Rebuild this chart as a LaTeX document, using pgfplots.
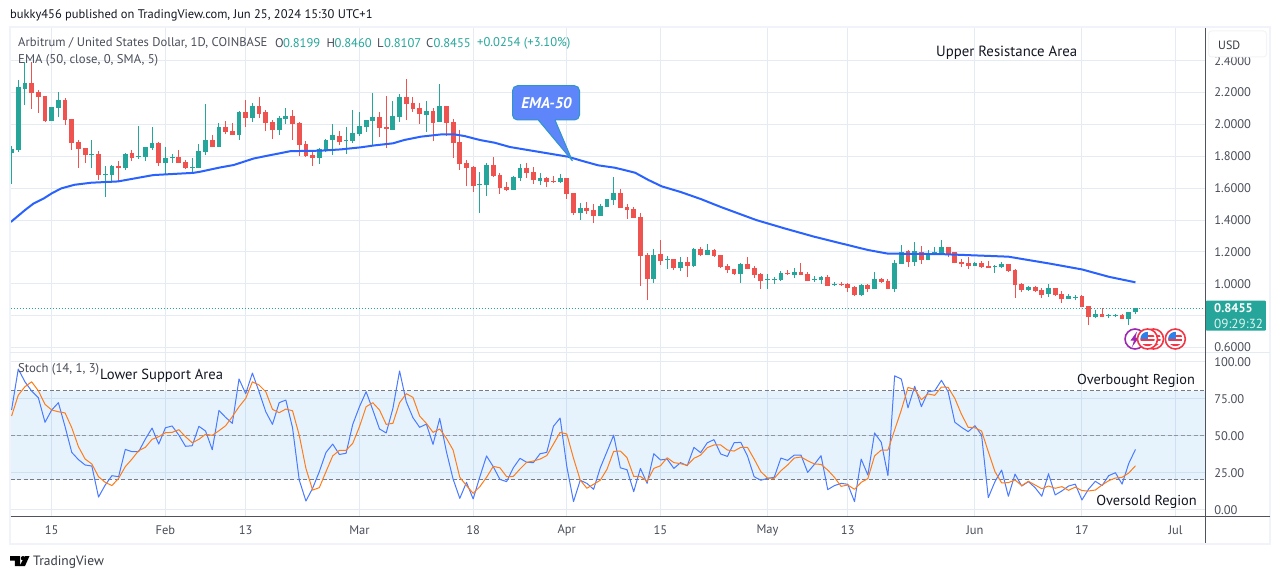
\documentclass[border=0pt]{standalone}
\usepackage{fontspec}
\usepackage{pgfplots}
\usepackage{pgfplotstable}
\pgfplotsset{compat=1.18}
\setmainfont{PT Sans}
\definecolor{tvup}{HTML}{26A69A}
\definecolor{tvdn}{HTML}{EF5350}
\definecolor{tvgrid}{HTML}{E4EBF3}
\definecolor{tvframe}{HTML}{F0F3FA}
\definecolor{tvaxis}{HTML}{50535E}
\definecolor{tvtext}{HTML}{4A4E5A}
\definecolor{tvdark}{HTML}{131722}
\definecolor{tvblue}{HTML}{2962FF}
\definecolor{tvorange}{HTML}{FF6D00}
\definecolor{tvband}{HTML}{2196F3}
\definecolor{tvdash}{HTML}{787B86}
\definecolor{callout}{HTML}{5E86FA}
\definecolor{calloutb}{HTML}{2C96C8}
\definecolor{flagred}{HTML}{F23645}
\definecolor{flagblue}{HTML}{2F7FE8}
\definecolor{evpurple}{HTML}{9C27B0}

% day of 2024, open, high, low, close
\pgfplotstableread{
d O H L C
9 1.822 1.864 1.625 1.845
10 1.839 2.278 1.828 2.234
11 2.224 2.390 2.121 2.259
15 2.021 2.108 2.021 2.108
16 2.102 2.203 2.044 2.152
21 1.810 1.901 1.724 1.812
23 1.685 1.738 1.546 1.687
24 1.682 1.744 1.634 1.738
26 1.726 1.820 1.713 1.814
28 1.797 1.989 1.784 1.801
29 1.795 1.857 1.770 1.857
30 1.851 1.983 1.839 1.883
32 1.757 1.857 1.682 1.788
33 1.793 1.814 1.757 1.797
36 1.730 1.788 1.701 1.733
37 1.726 1.876 1.726 1.832
38 1.826 2.127 1.807 1.901
40 1.857 2.008 1.857 1.983
43 1.933 2.083 1.901 2.077
45 2.040 2.134 2.014 2.115
49 1.964 2.052 1.933 2.040
50 2.033 2.102 2.002 2.052
55 1.788 1.851 1.751 1.845
56 1.839 1.908 1.826 1.901
57 1.902 2.002 1.808 1.933
59 1.897 1.983 1.814 1.900
60 1.895 2.090 1.883 1.946
61 1.939 2.077 1.927 1.990
62 1.983 2.027 1.952 2.027
63 2.021 2.197 1.870 2.046
66 1.964 2.146 1.964 2.052
67 2.046 2.190 2.015 2.172
71 2.059 2.146 1.952 2.084
73 2.015 2.253 2.015 2.115
79 1.621 1.701 1.444 1.625
80 1.619 1.757 1.550 1.745
84 1.588 1.676 1.588 1.669
85 1.663 1.751 1.644 1.726
88 1.644 1.695 1.619 1.663
91 1.638 1.688 1.632 1.663
94 1.444 1.506 1.400 1.475
97 1.425 1.500 1.425 1.487
98 1.481 1.531 1.481 1.531
99 1.525 1.669 1.494 1.569
105 1.029 1.217 1.004 1.180
107 1.151 1.174 1.092 1.155
109 1.099 1.168 1.080 1.136
111 1.111 1.224 1.105 1.218
113 1.180 1.249 1.180 1.212
118 1.061 1.130 1.005 1.124
122 1.026 1.061 0.967 1.030
123 1.026 1.042 0.998 1.030
124 1.023 1.080 1.017 1.067
126 1.055 1.099 1.036 1.074
129 1.026 1.049 1.011 1.030
130 1.023 1.049 0.998 1.042
132 0.996 1.011 0.986 1.000
136 0.929 0.998 0.923 0.992
138 0.967 1.074 0.967 1.030
141 0.967 1.149 0.948 1.130
142 1.124 1.243 1.124 1.199
144 1.136 1.262 1.111 1.205
146 1.149 1.212 1.149 1.193
147 1.186 1.230 1.180 1.199
148 1.186 1.274 1.186 1.230
153 1.111 1.136 1.111 1.130
156 1.107 1.117 1.067 1.111
157 1.105 1.136 1.099 1.124
161 0.960 0.986 0.954 0.979
164 0.935 0.998 0.917 0.973
167 0.904 0.935 0.904 0.923
168 0.915 0.929 0.898 0.919
171 0.791 0.835 0.785 0.810
173 0.797 0.810 0.785 0.801
174 0.799 0.810 0.791 0.801
176 0.778 0.822 0.741 0.822
177 0.8199 0.8460 0.8107 0.8455
}\candlesUp

\pgfplotstableread{
d O H L C
12 2.259 2.390 2.096 2.196
13 2.203 2.215 2.073 2.171
14 2.178 2.178 2.014 2.021
17 2.152 2.163 1.996 2.027
18 2.033 2.033 1.839 1.885
19 1.889 1.901 1.726 1.845
20 1.851 1.851 1.757 1.807
22 1.814 1.830 1.650 1.682
25 1.738 1.772 1.640 1.726
27 1.820 1.839 1.772 1.788
31 1.883 1.889 1.738 1.757
34 1.795 1.839 1.757 1.757
35 1.763 1.776 1.719 1.726
39 1.901 1.933 1.857 1.857
41 1.983 2.021 1.939 1.952
42 1.958 2.008 1.933 1.933
44 2.077 2.152 1.983 2.040
46 2.115 2.171 2.040 2.065
47 2.077 2.090 1.958 2.008
48 2.014 2.027 1.908 1.964
51 2.052 2.090 1.901 2.002
52 2.008 2.014 1.801 1.870
53 1.876 1.895 1.795 1.801
54 1.807 1.826 1.738 1.788
58 1.927 1.958 1.870 1.889
64 2.046 2.077 1.920 1.977
65 1.983 2.178 1.851 1.971
68 2.172 2.285 2.027 2.128
69 2.134 2.172 2.077 2.096
70 2.102 2.134 2.002 2.065
72 2.084 2.102 1.895 2.008
74 2.115 2.115 1.927 2.008
75 2.015 2.033 1.789 1.883
76 1.889 1.964 1.713 1.751
77 1.757 1.776 1.613 1.726
78 1.732 1.738 1.575 1.613
81 1.745 1.795 1.669 1.676
82 1.682 1.695 1.563 1.600
83 1.607 1.638 1.582 1.588
86 1.726 1.757 1.663 1.695
87 1.701 1.732 1.626 1.651
89 1.663 1.669 1.607 1.638
90 1.644 1.676 1.632 1.638
92 1.663 1.663 1.531 1.563
93 1.569 1.569 1.431 1.444
95 1.475 1.513 1.437 1.456
96 1.462 1.500 1.381 1.425
100 1.569 1.594 1.475 1.475
101 1.481 1.500 1.406 1.462
102 1.469 1.481 1.412 1.412
103 1.418 1.444 0.985 1.174
104 1.180 1.192 0.897 1.029
106 1.187 1.274 1.118 1.143
108 1.155 1.155 1.086 1.099
110 1.136 1.168 1.042 1.111
112 1.218 1.231 1.174 1.180
114 1.212 1.218 1.168 1.174
115 1.180 1.180 1.099 1.105
116 1.111 1.124 1.067 1.086
117 1.092 1.092 1.055 1.061
119 1.124 1.168 1.092 1.092
120 1.099 1.111 1.036 1.055
121 1.061 1.067 0.967 1.017
125 1.069 1.086 1.055 1.061
127 1.074 1.130 1.055 1.055
128 1.061 1.074 1.017 1.017
131 1.042 1.055 0.986 0.986
133 1.000 1.011 0.986 0.996
134 0.998 1.005 0.948 0.973
135 0.980 0.986 0.923 0.929
137 0.992 0.998 0.948 0.967
139 1.028 1.036 1.005 1.011
140 1.017 1.030 0.967 0.967
143 1.205 1.212 1.105 1.136
145 1.199 1.237 1.124 1.149
149 1.230 1.230 1.168 1.186
150 1.199 1.199 1.130 1.130
151 1.136 1.155 1.105 1.124
152 1.130 1.168 1.092 1.111
154 1.130 1.143 1.099 1.105
155 1.111 1.143 1.099 1.101
158 1.124 1.124 1.073 1.080
159 1.086 1.092 0.910 0.992
160 0.998 1.004 0.948 0.960
162 0.979 0.986 0.948 0.954
163 0.960 0.973 0.910 0.929
165 0.973 0.973 0.923 0.929
166 0.935 0.954 0.879 0.904
169 0.923 0.929 0.854 0.854
170 0.860 0.860 0.741 0.791
172 0.808 0.848 0.791 0.791
175 0.804 0.810 0.778 0.778
}\candlesDown

\pgfplotstableread{
d v
8.9 1.388
11 1.462
12.3 1.504
13.8 1.535
15 1.567
16.4 1.598
18.4 1.621
20.9 1.634
24.9 1.642
28.2 1.667
30.2 1.682
36.2 1.696
37.2 1.703
40.2 1.730
42.2 1.745
45.2 1.786
47.2 1.803
50.7 1.832
55.2 1.835
58.2 1.843
61.2 1.856
63.2 1.868
66 1.881
67.7 1.902
70.2 1.923
73.2 1.937
75.2 1.937
76.7 1.927
79 1.902
81.2 1.885
83.5 1.858
86.2 1.839
89.2 1.818
92.2 1.797
94.2 1.772
96.7 1.743
99.2 1.728
102.2 1.697
104.2 1.651
106.2 1.611
109 1.576
112 1.532
115 1.482
120.3 1.400
124.5 1.348
129 1.295
134 1.243
137 1.212
140 1.189
148 1.186
153 1.178
158 1.170
164 1.128
169 1.090
173 1.044
177 1.009
}\emaT

\pgfplotstableread{
d k m
9 67 62.9
10 94.6 77
11 86 82.7
12 79.8 86
13 75.3 80
14 58.7 70.8
15 67 67
16 71.9 65.8
17 55.7 65
18 38.4 55
19 33.5 42.2
20 29.9 33.9
21 29.2 30.6
22 8.3 22
23 16.4 18.2
24 22.7 16
25 22 20.9
26 40.4 28.8
27 38.9 33.9
28 38.9 39.6
29 47.4 41.8
30 54.8 47.2
31 44 49
32 55 51.7
33 56.2 51.9
34 50.1 53.7
35 42.5 49
36 42.9 44.9
37 56 47.2
38 52.8 50.6
39 40.2 49.9
40 66.7 53
41 62 56.4
42 58 62.5
43 87.9 69.2
44 78 74.8
45 91.9 86
46 79.3 83.8
47 65.8 79.3
48 57.3 67.4
49 71.9 65.2
50 73.7 67.6
51 55 66.5
52 19.8 50
53 5.6 27.6
54 14.2 13
55 25.4 14.6
56 38.4 25.4
57 44 36
58 37 39.8
59 37.8 39.8
60 57.3 44.5
61 69.2 55.7
62 79.3 69.2
63 67 71.9
64 54.2 67
65 51.5 57.3
66 68 58
67 93.3 71.9
68 72.6 78
69 61.8 75.5
70 55.3 62.9
71 57.5 58
72 43.8 51.9
73 61.3 54.2
74 38.9 47.9
75 20.4 40
76 7.4 21.6
77 18.2 16
78 7 10.8
79 22 15.3
80 36 21.6
81 28.8 29
82 20.2 28
83 18.7 22
84 28 22.2
85 34.4 27.2
86 31.7 31.7
87 31.5 32.6
88 37.5 33.9
89 38.4 36.2
90 56 44
91 61.6 51.9
92 28.8 50.8
93 5.2 34.4
94 19.6 19.8
95 17.5 14.2
96 13.5 16.9
97 28 19.6
98 38.9 27
99 50 39.1
100 28 39.3
101 26.7 34.8
102 11.9 22.2
103 27.6 22.2
104 17.5 18.9
105 37.5 27.6
106 33.3 29.4
107 33.9 34.8
108 27.6 31.5
109 31.5 30.8
110 29.4 29.7
111 41.8 34.4
112 38.2 36.6
113 44.9 41.6
114 47 43.4
115 37.3 43.4
116 35.7 40
117 44.9 39.3
118 45.2 41.8
119 36 41.8
120 22 33.9
121 19.6 25.4
122 20.9 21.1
123 21.6 20.9
124 34.6 26
125 33 29.9
126 36.6 34.6
127 36.6 35.3
128 24.9 32.8
129 30.3 30.6
130 36.2 30.3
131 13.3 26.5
132 16 21.6
133 17.5 15.5
134 16.9 16.4
135 5.2 13.5
136 33.9 18.2
137 23.1 20.7
138 51.5 36
139 45.2 40
140 22.7 40
141 90 53.5
142 87.9 67
143 68.5 82.2
144 83 80.9
145 69.2 73.9
146 79.3 77.8
147 80 76.9
148 87 82.5
149 79.3 82.2
150 58.7 74.8
151 55.3 64
152 52.4 55.3
153 56.4 55
154 50 52.8
155 7.9 38.9
156 18.7 25.4
157 26.5 17.8
158 8.8 18
159 23.8 19.8
160 15.7 16
161 18.7 18.9
162 14.6 16.4
163 8.8 13.9
164 24 15.7
165 9.7 14.2
166 12.4 15.3
167 15.7 12.8
168 17 15
169 6.3 12.6
170 13.7 12.4
171 18.9 13
172 16 16.4
173 22.7 19.3
174 24.7 21.1
175 17 21.6
176 31 24.5
177 40.4 29.4
}\stochT

\pgfplotsset{
  tv/.style={
    scale only axis, width=1194.8pt,
    xmin=8.84, xmax=187.44,
    axis line style={draw=none},
    major tick length=0pt,
    xmajorgrids, ymajorgrids,
    grid style={tvgrid, line width=1pt},
    xtick={15,32,44,61,78,92,106,122,134,153,169,183},
    yticklabel pos=right,
    yticklabel style={font=\fontsize{12.5}{14}\selectfont, text=tvtext, anchor=west, inner sep=0pt, xshift=8.8pt},
    xticklabel style={font=\fontsize{12.5}{14}\selectfont, text=tvtext},
  },
  wick/.style={draw=none, mark=none, forget plot,
    error bars/.cd, y dir=plus, y explicit, error mark=none,
    error bar style={draw=#1, line width=1pt, solid}},
  body/.style={draw=none, mark=none, forget plot,
    error bars/.cd, y dir=plus, y explicit, error mark=none,
    error bar style={draw=#1, line width=4.8pt, solid}},
}
\newcommand{\usflag}[2]{%
  \fill[white] (#1,{579-#2}) circle (10);
  \begin{scope}
    \clip (#1,{579-#2}) circle (7.2);
    \fill[white] ({#1-8},{579-#2-8}) rectangle ({#1+8},{579-#2+8});
    \fill[flagred] ({#1-8},{579-#2-8}) rectangle ({#1+8},{579-#2-4.5});
    \fill[flagred] ({#1-8},{579-#2-2.4}) rectangle ({#1+8},{579-#2+0.2});
    \fill[flagred] ({#1},{579-#2+2.4}) rectangle ({#1+8},{579-#2+4.4});
    \fill[flagblue] ({#1-8},{579-#2+0}) rectangle ({#1+0.5},{579-#2+8});
  \end{scope}
  \draw[flagred, line width=1.6pt] (#1,{579-#2}) circle (10);
}
\newcommand{\fs}[1]{\fontsize{#1}{#1}\selectfont}

\begin{document}
\begin{tikzpicture}[x=1pt,y=1pt]
\useasboundingbox (0,0) rectangle (1281,579);
\fill[white] (0,0) rectangle (1281,579);

% price pane
\begin{axis}[tv, at={(10.5pt,226.7pt)}, anchor=south west, height=325.3pt,
    ymin=0.570, ymax=2.611,
    ytick={0.6,0.8,1.0,1.2,1.4,1.6,1.8,2.0,2.2,2.4},
    xticklabels={},
    yticklabel style={/pgf/number format/fixed, /pgf/number format/fixed zerofill, /pgf/number format/precision=4, /pgf/number format/assume math mode=true},
  ]
  \addplot[draw=tvup, dash pattern=on 1pt off 2pt, line width=1pt, forget plot] coordinates {(8.84,0.8455) (187.44,0.8455)};
  \addplot[wick=tvup] table[x=d, y=L, y error expr=\thisrow{H}-\thisrow{L}] {\candlesUp};
  \addplot[wick=tvdn] table[x=d, y=L, y error expr=\thisrow{H}-\thisrow{L}] {\candlesDown};
  \addplot[body=tvup] table[x=d, y=O, y error expr=\thisrow{C}-\thisrow{O}] {\candlesUp};
  \addplot[body=tvdn] table[x=d, y=C, y error expr=\thisrow{O}-\thisrow{C}] {\candlesDown};
  \addplot[tvblue, line width=2pt, line join=round] table[x=d, y=v] {\emaT};
\end{axis}

% stochastic pane
\begin{axis}[tv, at={(10.5pt,63pt)}, anchor=south west, height=163.7pt,
    ymin=-4.5, ymax=105.9,
    ytick={0,25,50,75,100},
    xticklabels={15,Feb,13,Mar,18,Apr,15,May,13,Jun,17,Jul},
    xticklabel style={anchor=center, yshift=-14.5pt},
    yticklabel style={yshift=-0.7pt, /pgf/number format/fixed, /pgf/number format/fixed zerofill, /pgf/number format/precision=2, /pgf/number format/assume math mode=true},
  ]
  \addplot[draw=none, fill=tvband, fill opacity=0.11, forget plot] coordinates {(8.84,20) (187.44,20) (187.44,80) (8.84,80)} -- cycle;
  \addplot[tvdash, dash pattern=on 4pt off 2.5pt, line width=1pt, forget plot] coordinates {(8.84,80) (187.44,80)};
  \addplot[tvdash!80, dash pattern=on 4pt off 2.5pt, line width=1pt, forget plot] coordinates {(8.84,50) (187.44,50)};
  \addplot[tvdash, dash pattern=on 4pt off 2.5pt, line width=1pt, forget plot] coordinates {(8.84,20) (187.44,20)};
  \addplot[tvblue!85!white, line width=1pt, line join=round] table[x=d, y=k] {\stochT};
  \addplot[tvorange!90!white, line width=1pt, line join=round] table[x=d, y=m] {\stochT};
\end{axis}

% frame
\draw[tvframe, line width=2pt] (10,{579-27}) rectangle (1270,{579-544});
\draw[tvgrid, line width=1pt] (10,{579-352.3}) -- (1270,{579-352.3});
\draw[tvaxis, line width=1pt] (10.5,{579-516}) -- (1270,{579-516});
\draw[tvaxis, line width=1pt] (1205.3,{579-28}) -- (1205.3,{579-543});

% USD box
\fill[white, draw=tvframe!80!gray!30, line width=1pt, rounded corners=3pt] (1208.5,{579-31}) rectangle (1266.5,{579-57});
\node[anchor=west, inner sep=0pt, text=tvdark!85, font=\fs{12}] at (1218,{579-45}) {USD};

% last price box
\fill[tvup, rounded corners=1pt] (1205.8,{579-300.5}) rectangle (1265.8,{579-330.7});
\node[anchor=west, inner sep=0pt, text=white, font=\fs{12.5}\bfseries] at (1214,{579-308.5}) {0.8455};
\node[anchor=west, inner sep=0pt, text=white!85!tvup, font=\fs{13.2}] at (1214,{579-323.8}) {09:29:32};

% header
\node[anchor=west, inner sep=0pt, text=tvdark, font=\fs{12.5}] at (10,{579-15.5}) {bukky456 published on TradingView.com, Jun 25, 2024 15:30 UTC+1};
\node[anchor=west, inner sep=0pt, text=tvtext, font=\fs{12.6}] at (18,{579-43}) {Arbitrum / United States Dollar, 1D, COINBASE};
\foreach \xa/\la/\xb/\va in {275/O/283/0.8199, 326.5/H/334.5/0.8460, 377/L/384/0.8107, 426/C/433.5/0.8455}{
  \node[anchor=west, inner sep=0pt, text=tvtext, font=\fs{12.6}] at (\xa,{579-43}) {\la};
  \node[anchor=west, inner sep=0pt, text=tvup, font=\fs{12.6}] at (\xb,{579-43}) {\va};
}
\node[anchor=west, inner sep=0pt, text=tvup, font=\fs{12.6}] at (477,{579-43}) {+0.0254 (+3.10\%)};
\node[anchor=west, inner sep=0pt, text=tvtext, font=\fs{12.7}] at (18,{579-60}) {EMA (50, close, 0, SMA, 5)};
\node[anchor=west, inner sep=0pt, text=tvtext, font=\fs{12.7}] at (18,{579-369}) {Stoch (14, 1, 3)};

% annotations
\node[anchor=west, inner sep=0pt, text=tvdark, font=\fs{14.8}] at (936,{579-52.5}) {Upper Resistance Area};
\node[anchor=west, inner sep=0pt, text=tvdark, font=\fs{14.6}] at (100,{579-375.5}) {Lower Support Area};
\node[anchor=east, inner sep=0pt, text=tvdark, font=\fs{14.3}] at (1195,{579-380.5}) {Overbought Region};
\node[anchor=east, inner sep=0pt, text=tvdark, font=\fs{14.4}] at (1197,{579-501.5}) {Oversold Region};

% callout
\draw[calloutb, fill=callout, line width=1pt, line join=round]
  (517.5,{579-85.7}) -- (574.5,{579-85.7}) arc[start angle=90,end angle=0,radius=5] -- (579.5,{579-115})
  arc[start angle=0,end angle=-90,radius=5] -- (555,{579-120}) -- (572.3,{579-160.7}) -- (538.3,{579-120})
  -- (517.5,{579-120}) arc[start angle=270,end angle=180,radius=5] -- (512.5,{579-90.7})
  arc[start angle=180,end angle=90,radius=5] -- cycle;
\node[text=white, inner sep=0pt, font=\fs{15.5}\bfseries\itshape] at (546.5,{579-103}) {EMA-50};

% events
\fill[white] (1135,{579-339}) circle (10);
\draw[evpurple, line width=1.6pt] (1135,{579-339}) circle (10);
\fill[evpurple] (1137,{579-331.5}) -- (1130.5,{579-340.5}) -- (1134,{579-340.5}) -- (1132,{579-347}) -- (1139,{579-337.5}) -- (1135.5,{579-337.5}) -- cycle;
\usflag{1153.5}{339}
\usflag{1147.5}{339}
\usflag{1175.3}{339}

% logo
\fill[black] (10,{579-556}) -- (20,{579-556}) -- (20,{579-566}) -- (14.8,{579-566}) -- (14.8,{579-560.5}) -- (10,{579-560.5}) -- cycle;
\fill[black] (23,{579-558.2}) circle (2.2);
\fill[black] (25,{579-556}) -- (29.5,{579-556}) -- (25,{579-566}) -- (19.5,{579-566}) -- cycle;
\node[anchor=west, inner sep=0pt, text=tvdark!85, font=\fs{13.5}] at (33,{579-562.5}) {TradingView};
\end{tikzpicture}
\end{document}
